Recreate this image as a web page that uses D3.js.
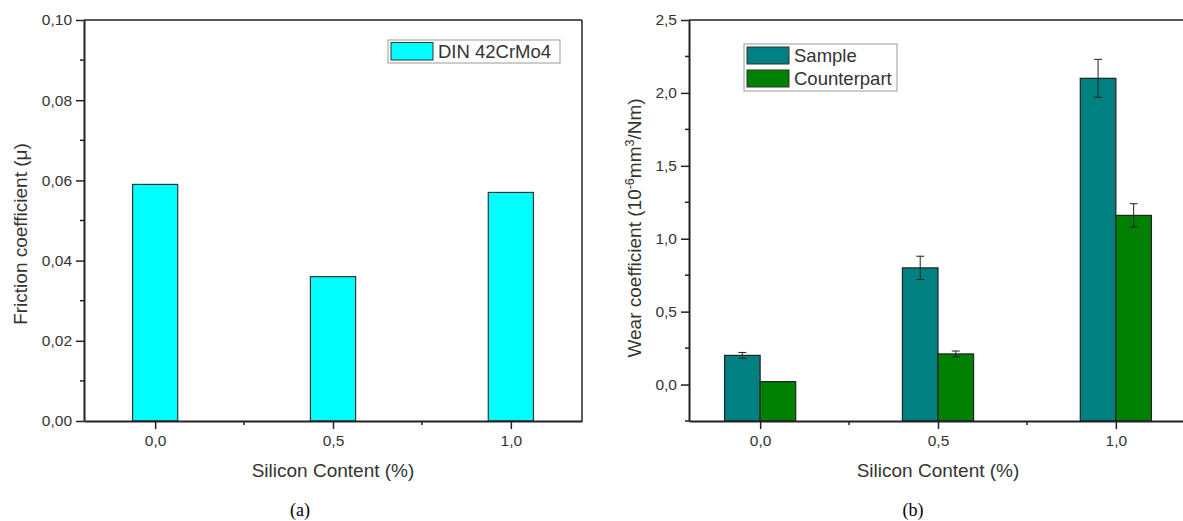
<!DOCTYPE html>
<html>
<head>
<meta charset="utf-8">
<script src="https://cdn.jsdelivr.net/npm/d3@7"></script>
<style>
  body { margin: 0; background: #fff; }
  text { font-family: "Liberation Sans", Arial, sans-serif; fill: #333; }
  .caption { font-family: "Liberation Serif", "Times New Roman", serif; fill: #000; }
</style>
</head>
<body>
<div id="chart"></div>
<script>
// silicon content categories (%)
const silicon = [0.0, 0.5, 1.0];

// (a) friction coefficient
const friction = [0.059, 0.036, 0.057];

// (b) wear coefficient, 10^-6 mm3/Nm
const wearSample = [0.20, 0.80, 2.10];
const wearSampleErr = [0.02, 0.08, 0.13];
const wearCounter = [0.02, 0.21, 1.16];
const wearCounterErr = [0.0, 0.02, 0.08];

const fricTicks = [0, 0.02, 0.04, 0.06, 0.08, 0.10];
const wearTicks = [0, 0.5, 1.0, 1.5, 2.0, 2.5];

const fmt2 = d => d3.format(".2f")(d).replace(".", ",");
const fmt1 = d => d3.format(".1f")(d).replace(".", ",");

const svg = d3.select("#chart").append("svg")
    .attr("width", 1183)
    .attr("height", 521);

// draw frame + axes for one panel
function panel(x, y, yTicks, yMinor, yFmt) {
    const g = svg.append("g");
    const [x0, x1] = x.range();
    const [y0, y1] = y.range();

    // minor ticks
    g.selectAll(".ymin").data(yMinor).enter().append("line")
        .attr("x1", x0 - 4).attr("x2", x0)
        .attr("y1", d => y(d)).attr("y2", d => y(d))
        .attr("stroke", "#222").attr("stroke-width", 1.5);
    g.selectAll(".xmin").data([0.25, 0.75]).enter().append("line")
        .attr("x1", d => x(d)).attr("x2", d => x(d))
        .attr("y1", y0).attr("y2", y0 + 4)
        .attr("stroke", "#222").attr("stroke-width", 1.5);

    const yAxis = g.append("g")
        .attr("transform", `translate(${x0},0)`)
        .call(d3.axisLeft(y).tickValues(yTicks).tickFormat(yFmt).tickSize(8).tickSizeOuter(0));
    const xAxis = g.append("g")
        .attr("transform", `translate(0,${y0})`)
        .call(d3.axisBottom(x).tickValues(silicon).tickFormat(fmt1).tickSize(8).tickSizeOuter(0));

    [yAxis, xAxis].forEach(a => {
        a.attr("font-size", null).attr("font-family", null);
        a.select(".domain").attr("stroke", "#222").attr("stroke-width", 2);
        a.selectAll(".tick line").attr("stroke", "#222").attr("stroke-width", 1.5);
        a.selectAll(".tick text").style("font-size", "15.5px").attr("fill", "#333");
    });
    yAxis.selectAll(".tick text").attr("x", -12);
    xAxis.selectAll(".tick text").attr("y", 14);

    // top and right frame lines
    g.append("line").attr("x1", x0).attr("x2", x1).attr("y1", y1).attr("y2", y1)
        .attr("stroke", "#222").attr("stroke-width", 1.5);
    g.append("line").attr("x1", x1).attr("x2", x1).attr("y1", y1).attr("y2", y0)
        .attr("stroke", "#222").attr("stroke-width", 1.5);
    return g;
}

// ---------- (a) ----------
const xa = d3.scaleLinear().domain([-0.2, 1.2]).range([84, 582]);
const ya = d3.scaleLinear().domain([0, 0.10]).range([421, 20]);
const bwA = xa(0.0635) - xa(0);

svg.append("g").selectAll("rect").data(silicon).enter().append("rect")
    .attr("x", (d) => xa(d) - bwA)
    .attr("width", bwA * 2)
    .attr("y", (d, i) => ya(friction[i]))
    .attr("height", (d, i) => ya(0) - ya(friction[i]))
    .attr("fill", "#00ffff")
    .attr("stroke", "#333").attr("stroke-width", 1.2);

panel(xa, ya, fricTicks, [0.01, 0.03, 0.05, 0.07, 0.09], fmt2);

// legend (a)
const legA = svg.append("g");
legA.append("rect").attr("x", 388).attr("y", 40).attr("width", 172).attr("height", 23)
    .attr("fill", "#fff").attr("stroke", "#999");
legA.append("rect").attr("x", 391).attr("y", 42.5).attr("width", 42).attr("height", 17.5)
    .attr("fill", "#00ffff").attr("stroke", "#333");
legA.append("text").attr("x", 438).attr("y", 58).style("font-size", "18.5px")
    .attr("fill", "#111").text("DIN 42CrMo4");

svg.append("text").attr("transform", "translate(27,234) rotate(-90)")
    .attr("text-anchor", "middle").style("font-size", "19px").attr("fill", "#222")
    .text("Friction coefficient (\u03bc)");
svg.append("text").attr("x", 333).attr("y", 477).attr("text-anchor", "middle")
    .style("font-size", "19px").attr("fill", "#222").text("Silicon Content (%)");
svg.append("text").attr("class", "caption").attr("x", 300).attr("y", 516)
    .attr("text-anchor", "middle").style("font-size", "18px").text("(a)");

// ---------- (b) ----------
const xb = d3.scaleLinear().domain([-0.2, 1.2]).range([689, 1187]);
const yb = d3.scaleLinear().domain([-0.25, 2.5]).range([421, 20]);
const bwB = xb(0.1) - xb(0);

const gb = svg.append("g");
const series = [
    { vals: wearSample, errs: wearSampleErr, color: "#008080", off: -1 },
    { vals: wearCounter, errs: wearCounterErr, color: "#008000", off: 0 }
];
series.forEach(s => {
    gb.selectAll(null).data(silicon).enter().append("rect")
        .attr("x", d => xb(d) + s.off * bwB)
        .attr("width", bwB)
        .attr("y", (d, i) => yb(s.vals[i]))
        .attr("height", (d, i) => yb(-0.25) - yb(s.vals[i]))
        .attr("fill", s.color)
        .attr("stroke", "#222").attr("stroke-width", 1.2);
});
series.forEach(s => {
    silicon.forEach((d, i) => {
        if (!s.errs[i]) return;
        const cx = xb(d) + s.off * bwB + bwB / 2;
        const hi = yb(s.vals[i] + s.errs[i]), lo = yb(s.vals[i] - s.errs[i]);
        gb.append("line").attr("x1", cx).attr("x2", cx).attr("y1", hi).attr("y2", lo)
            .attr("stroke", "#222").attr("stroke-width", 1);
        [hi, lo].forEach(v => gb.append("line")
            .attr("x1", cx - 4).attr("x2", cx + 4).attr("y1", v).attr("y2", v)
            .attr("stroke", "#222").attr("stroke-width", 1));
    });
});

panel(xb, yb, wearTicks, [-0.25, 0.25, 0.75, 1.25, 1.75, 2.25], fmt1);

// legend (b)
const legB = svg.append("g");
legB.append("rect").attr("x", 744).attr("y", 44).attr("width", 153).attr("height", 47)
    .attr("fill", "#fff").attr("stroke", "#999");
[["Sample", "#008080"], ["Counterpart", "#008000"]].forEach(([name, c], i) => {
    legB.append("rect").attr("x", 747).attr("y", 47 + i * 23).attr("width", 42).attr("height", 17)
        .attr("fill", c).attr("stroke", "#333");
    legB.append("text").attr("x", 794).attr("y", 62 + i * 23).style("font-size", "18.5px")
        .attr("fill", "#111").text(name);
});

const yt = svg.append("text").attr("transform", "translate(641,228) rotate(-90)")
    .attr("text-anchor", "middle").style("font-size", "19px").attr("fill", "#222");
yt.append("tspan").text("Wear coefficient (10");
yt.append("tspan").attr("dy", -7).style("font-size", "12.5px").text("-6");
yt.append("tspan").attr("dy", 7).text("mm");
yt.append("tspan").attr("dy", -7).style("font-size", "12.5px").text("3");
yt.append("tspan").attr("dy", 7).text("/Nm)");

svg.append("text").attr("x", 938).attr("y", 477).attr("text-anchor", "middle")
    .style("font-size", "19px").attr("fill", "#222").text("Silicon Content (%)");
svg.append("text").attr("class", "caption").attr("x", 913).attr("y", 516)
    .attr("text-anchor", "middle").style("font-size", "18px").text("(b)");
</script>
</body>
</html>
